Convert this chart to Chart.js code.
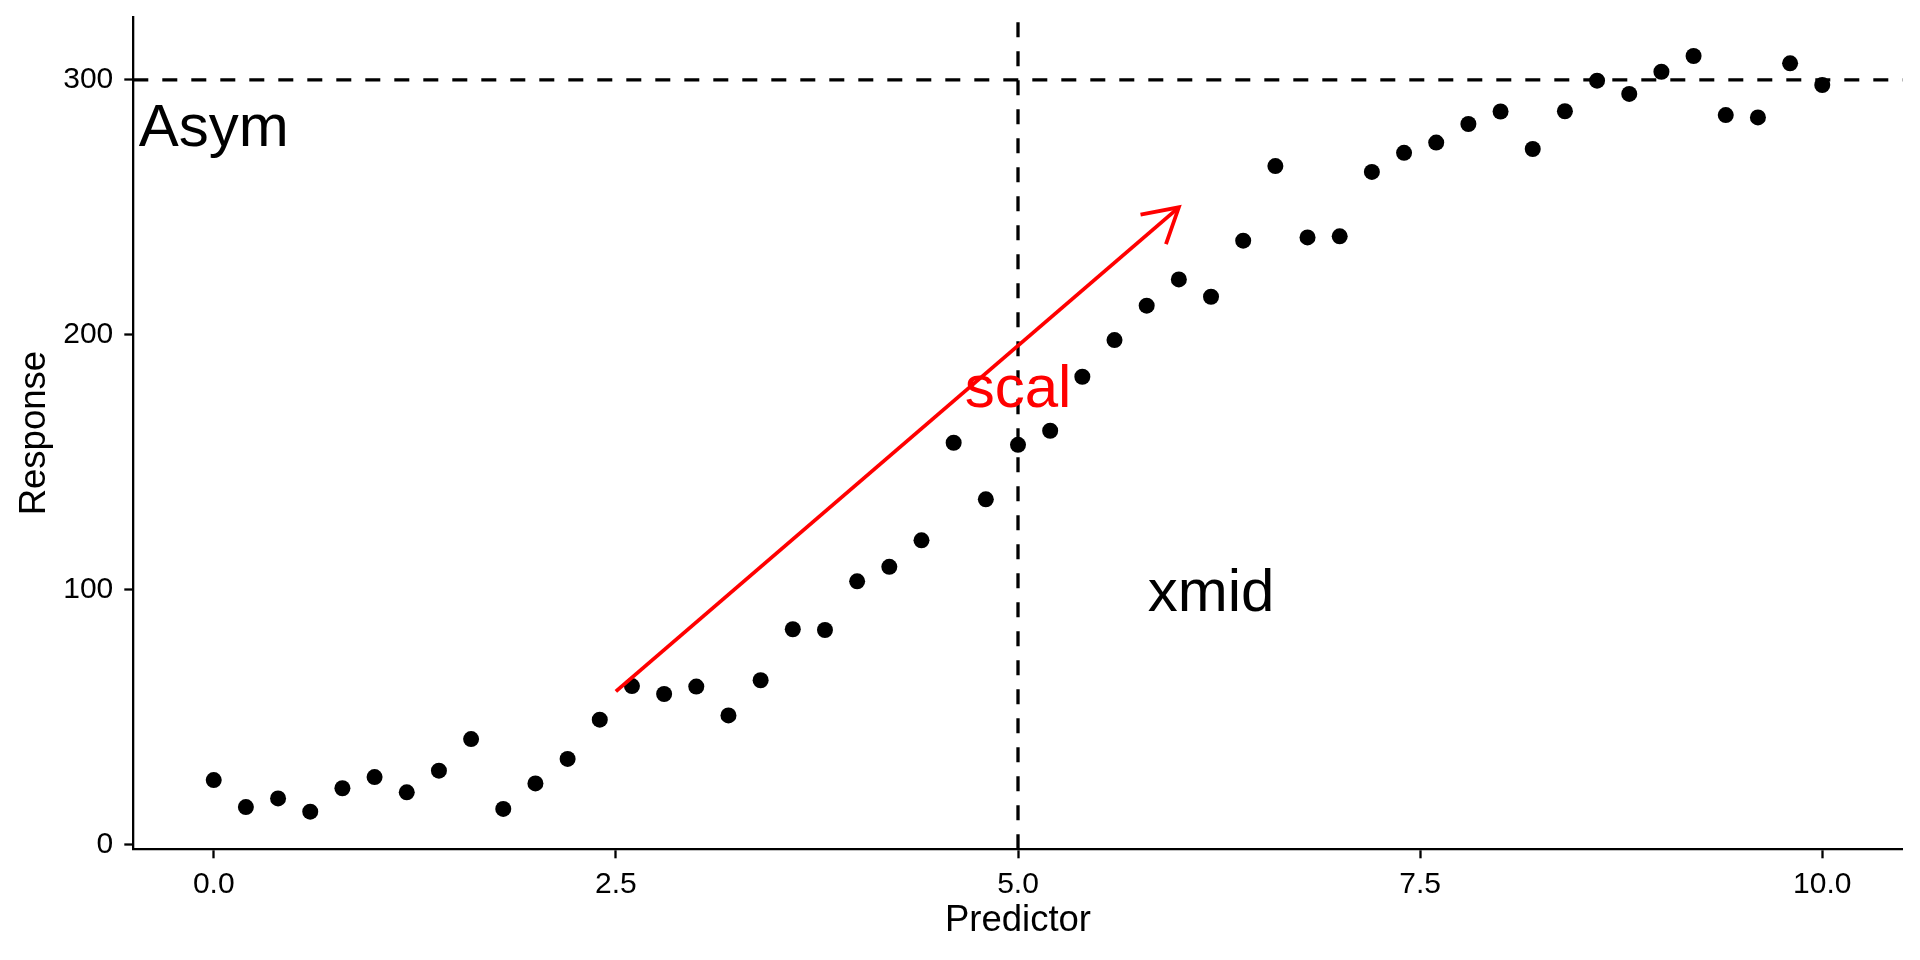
<!DOCTYPE html>
<html>
<head>
<meta charset="utf-8">
<script src="https://cdn.jsdelivr.net/npm/chart.js@4.4.1/dist/chart.umd.min.js"></script>
<style>
  html, body { margin: 0; padding: 0; background: #ffffff; }
  #c { display: block; }
</style>
</head>
<body>
<canvas id="c" width="1920" height="960"></canvas>
<script>
// ---- data ----
const predictor = [0.0, 0.2, 0.4, 0.6, 0.8, 1.0, 1.2, 1.4, 1.6, 1.8,
                   2.0, 2.2, 2.4, 2.6, 2.8, 3.0, 3.2, 3.4, 3.6, 3.8,
                   4.0, 4.2, 4.4, 4.6, 4.8, 5.0, 5.2, 5.4, 5.6, 5.8,
                   6.0, 6.2, 6.4, 6.6, 6.8, 7.0, 7.2, 7.4, 7.6, 7.8,
                   8.0, 8.2, 8.4, 8.6, 8.8, 9.0, 9.2, 9.4, 9.6, 9.8, 10.0];
const response = [25.2, 14.6, 18.0, 12.8, 22.0, 26.4, 20.4, 28.9, 41.3, 13.9,
                  23.9, 33.5, 48.9, 62.1, 59.0, 61.9, 50.6, 64.4, 84.4, 84.1,
                  103.2, 108.9, 119.3, 157.6, 135.4, 156.8, 162.3, 183.5, 197.9, 211.4,
                  221.7, 214.9, 236.9, 266.2, 238.2, 238.6, 263.9, 271.4, 275.4, 282.7,
                  287.6, 272.9, 287.7, 299.7, 294.5, 303.2, 309.4, 286.2, 285.3, 306.5, 298.0];
const xTicks = [0, 2.5, 5, 7.5, 10];
const yTicks = [0, 100, 200, 300];
const xLimits = [-0.5, 10.5];
const yLimits = [-1.96, 324.7];
const asym = 300;          // horizontal reference
const xmid = 5;            // vertical reference
const arrowFrom = [2.5, 60];
const arrowTo = [6.0, 250];
const annotLabels = ['Asym', 'xmid', 'scal'];
const annotX = [0, 6.2, 5.0];
const annotY = [274.2, 91.6, 171.5];
const annotColors = ['#000000', '#000000', '#FF0000'];

const FONT = "'Liberation Sans', Arial, Helvetica, sans-serif";

const points = predictor.map((x, i) => ({ x: x, y: response[i] }));

const annotPlugin = {
  id: 'annot',
  afterDatasetsDraw(chart) {
    const { ctx } = chart;
    const xs = chart.scales.x, ys = chart.scales.y;
    // arrowhead (open)
    const x0 = xs.getPixelForValue(arrowFrom[0]), y0 = ys.getPixelForValue(arrowFrom[1]);
    const x1 = xs.getPixelForValue(arrowTo[0]), y1 = ys.getPixelForValue(arrowTo[1]);
    const ang = Math.atan2(y1 - y0, x1 - x0);
    const L = 39, a = Math.PI / 6;
    ctx.save();
    ctx.strokeStyle = '#FF0000';
    ctx.lineWidth = 3.8;
    ctx.lineCap = 'butt';
    ctx.lineJoin = 'miter';
    ctx.beginPath();
    ctx.moveTo(x1 - L * Math.cos(ang - a), y1 - L * Math.sin(ang - a));
    ctx.lineTo(x1, y1);
    ctx.lineTo(x1 - L * Math.cos(ang + a), y1 - L * Math.sin(ang + a));
    ctx.stroke();
    // text annotations
    ctx.font = '60px ' + FONT;
    ctx.textAlign = 'center';
    ctx.textBaseline = 'alphabetic';
    annotLabels.forEach((t, i) => {
      ctx.fillStyle = annotColors[i];
      ctx.fillText(t, xs.getPixelForValue(annotX[i]), ys.getPixelForValue(annotY[i]));
    });
    ctx.restore();
  }
};

new Chart(document.getElementById('c'), {
  type: 'scatter',
  data: {
    datasets: [
      {
        label: 'scal arrow',
        data: [{ x: arrowFrom[0], y: arrowFrom[1] }, { x: arrowTo[0], y: arrowTo[1] }],
        showLine: true,
        borderColor: '#FF0000',
        borderWidth: 3.8,
        pointRadius: 0,
        borderCapStyle: 'butt',
        order: 0
      },
      {
        label: 'data',
        data: points,
        backgroundColor: '#000000',
        borderWidth: 0,
        pointRadius: 8,
        pointHoverRadius: 8,
        order: 1
      },
      {
        label: 'Asym',
        data: [{ x: xLimits[0], y: asym }, { x: xLimits[1], y: asym }],
        showLine: true,
        borderColor: '#000000',
        borderWidth: 3.3,
        borderDash: [15, 14],
        pointRadius: 0,
        borderCapStyle: 'butt',
        order: 2
      },
      {
        label: 'xmid',
        data: [{ x: xmid, y: yLimits[0] }, { x: xmid, y: yLimits[1] }],
        showLine: true,
        borderColor: '#000000',
        borderWidth: 3.3,
        borderDash: [15, 14],
        pointRadius: 0,
        borderCapStyle: 'butt',
        order: 2
      }
    ]
  },
  options: {
    responsive: false,
    animation: false,
    devicePixelRatio: 1,
    layout: { padding: { left: 0, right: 17.3, top: 17, bottom: 0 } },
    plugins: {
      legend: { display: false },
      tooltip: { enabled: false }
    },
    scales: {
      x: {
        type: 'linear',
        min: xLimits[0],
        max: xLimits[1],
        afterBuildTicks: (s) => { s.ticks = xTicks.map(v => ({ value: v })); },
        afterFit: (s) => { s.height = 110.7; s.paddingLeft = 0; s.paddingRight = 0; },
        border: { display: true, color: '#000000', width: 2.3 },
        grid: { display: true, drawOnChartArea: false, drawTicks: true, tickLength: 9, tickColor: '#000000', tickWidth: 2.3 },
        ticks: {
          padding: 8,
          color: '#000000',
          font: { family: FONT, size: 30 },
          maxRotation: 0,
          callback: (v) => Number(v).toFixed(1)
        },
        title: {
          display: true,
          text: 'Predictor',
          color: '#000000',
          font: { family: FONT, size: 36.5 },
          padding: { top: 0, bottom: 16.7 }
        }
      },
      y: {
        type: 'linear',
        min: yLimits[0],
        max: yLimits[1],
        afterBuildTicks: (s) => { s.ticks = yTicks.map(v => ({ value: v })); },
        afterFit: (s) => { s.width = 133.3; s.paddingTop = 0; s.paddingBottom = 0; },
        border: { display: true, color: '#000000', width: 2.3 },
        grid: { display: true, drawOnChartArea: false, drawTicks: true, tickLength: 9, tickColor: '#000000', tickWidth: 2.3 },
        ticks: {
          padding: 11,
          color: '#000000',
          font: { family: FONT, size: 30 },
          callback: (v) => String(v)
        },
        title: {
          display: true,
          text: 'Response',
          color: '#000000',
          font: { family: FONT, size: 36.5 },
          padding: { top: 12.9, bottom: 0 }
        }
      }
    }
  },
  plugins: [annotPlugin]
});
</script>
</body>
</html>
